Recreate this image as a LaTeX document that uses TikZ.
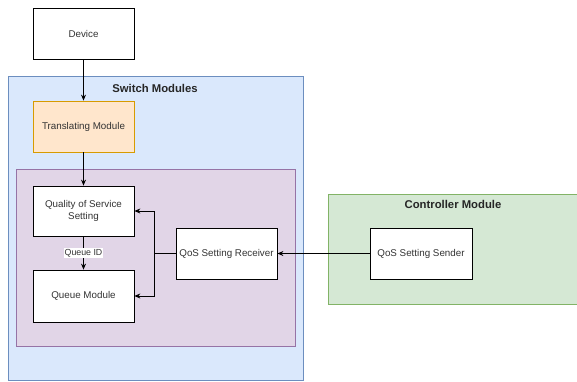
\documentclass[tikz,border=0pt]{standalone}
\usepackage{fontspec}
\setmainfont{Liberation Sans}
\usetikzlibrary{arrows.meta}
\definecolor{txt}{HTML}{333333}
\definecolor{bluef}{HTML}{DAE8FC}\definecolor{blued}{HTML}{6C8EBF}
\definecolor{orf}{HTML}{FFE6CC}\definecolor{ord}{HTML}{D79B00}
\definecolor{puf}{HTML}{E1D5E7}\definecolor{pud}{HTML}{9673A6}
\definecolor{grf}{HTML}{D5E8D4}\definecolor{grd}{HTML}{82B366}
\tikzset{
  box/.style={draw=black, fill=white, line width=0.8pt, text=txt, font=\fontsize{9.8}{11.5}\selectfont, align=center, inner sep=1pt},
  container/.style={line width=0.8pt},
  title/.style={font=\bfseries\fontsize{11.3}{13}\selectfont, text=black!85},
  arr/.style={line width=0.8pt, -{Stealth[length=6pt,width=5pt]}},
  lbl/.style={fill=white, inner sep=1pt, font=\fontsize{8.8}{10}\selectfont, text=txt}
}
\begin{document}
\begin{tikzpicture}[x=1pt,y=-1pt]
\useasboundingbox (0,0) rectangle (577,381);
% containers
\draw[container, fill=bluef, draw=blued] (8,76) rectangle (303,380);
\node[title] (swt) at (155,88) {Switch Modules};
\draw[container, fill=puf, draw=pud] (16,169) rectangle (295,346);
\draw[container, fill=grf, draw=grd] (328,194) rectangle (578,304);
\node[title] (ctt) at (453,204) {Controller Module};
% boxes
\node[box, minimum width=101pt, minimum height=51pt] (dev) at (83.5,33.5) {Device};
\node[box, minimum width=101pt, minimum height=51pt, fill=orf, draw=ord] (tr) at (83.5,126.5) {Translating Module};
\node[box, minimum width=101pt, minimum height=50pt] (qos) at (83.5,211) {Quality of Service\\Setting};
\node[box, minimum width=101pt, minimum height=52pt] (qm) at (83.5,296) {Queue Module};
\node[box, minimum width=101pt, minimum height=51pt] (rec) at (226.5,253.5) {QoS Setting Receiver};
\node[box, minimum width=102pt, minimum height=51pt] (snd) at (421,253.5) {QoS Setting Sender};
% connectors
\draw[arr] (dev) -- (tr);
\draw[arr] (tr) -- (qos);
\draw[arr] (qos) -- node[lbl] {Queue ID} (qm);
\draw[arr] (snd) -- (rec);
\draw[arr] (rec.west) -- ++(-21,0) |- (qos.east);
\draw[arr] (rec.west) -- ++(-21,0) |- (qm.east);
\end{tikzpicture}
\end{document}
